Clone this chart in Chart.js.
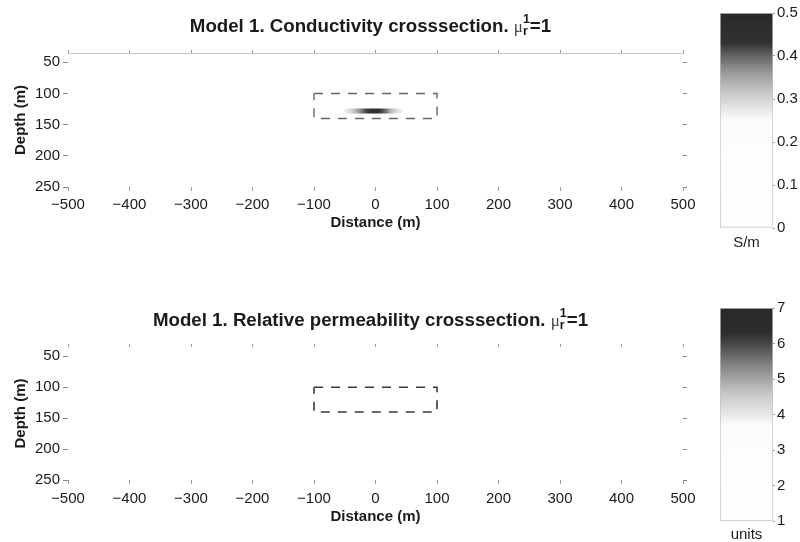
<!DOCTYPE html>
<html>
<head>
<meta charset="utf-8">
<script src="https://cdn.jsdelivr.net/npm/chart.js@4"></script>
<style>
  body { margin: 0; background: #fff; overflow: hidden; width: 800px; height: 542px; }
  canvas { position: absolute; }
</style>
</head>
<body>
<canvas id="cond" width="720" height="250" style="left:0;top:0"></canvas>
<canvas id="condBar" width="100" height="260" style="left:700px;top:0"></canvas>
<canvas id="perm" width="720" height="248" style="left:0;top:294px"></canvas>
<canvas id="permBar" width="100" height="252" style="left:700px;top:290px"></canvas>
<script>
// axis ticks
const distanceTicks = [-500, -400, -300, -200, -100, 0, 100, 200, 300, 400, 500];
const depthTicks = [50, 100, 150, 200, 250];
const sigmaTicks = [0, 0.1, 0.2, 0.3, 0.4, 0.5];
const muTicks = [1, 2, 3, 4, 5, 6, 7];

// target box (dashed outline), distance / depth corners
const boxDistance = [-100, 100, 100, -100, -100];
const boxDepth = [100, 100, 140, 140, 100];

// recovered conductivity anomaly along one depth
const anomalyDistance = [-47, -35, -25, -15, -5, 5, 15, 25, 40];
const anomalySigma = [0.27, 0.32, 0.37, 0.42, 0.46, 0.45, 0.40, 0.33, 0.27];
const anomalyDepth = 128;

// grey colour maps (value -> grey level)
const sigmaStops = [0, 0.25, 0.28, 0.32, 0.36, 0.40, 0.43, 0.5];
const sigmaGrays = [255, 252, 228, 195, 155, 100, 50, 40];
const muStops = [1, 3.7, 4.0, 4.5, 5.0, 5.5, 6.0, 6.3, 7];
const muGrays = [255, 252, 232, 205, 165, 120, 70, 45, 40];

const FONT = '"Liberation Sans", Arial, Helvetica, sans-serif';
const INK = '#1a1a1a';

function grayFor(v, stops, grays) {
    if (v <= stops[0]) return `rgb(${grays[0]},${grays[0]},${grays[0]})`;
    for (let i = 1; i < stops.length; i++) {
        if (v <= stops[i]) {
            const t = (v - stops[i - 1]) / (stops[i] - stops[i - 1]);
            const g = Math.round(grays[i - 1] + t * (grays[i] - grays[i - 1]));
            return `rgb(${g},${g},${g})`;
        }
    }
    const g = grays[grays.length - 1];
    return `rgb(${g},${g},${g})`;
}

const minus = v => String(v).replace('-', '\u2212');

// title with the stacked mu_r^1 symbol
const muTitle = {
    id: 'muTitle',
    afterDraw(chart, args, opts) {
        if (!opts.text) return;
        const { ctx, chartArea } = chart;
        const y = chartArea.top - 26;
        const main = opts.text + ' ';
        ctx.save();
        ctx.fillStyle = INK;
        ctx.textBaseline = 'middle';
        ctx.textAlign = 'left';
        ctx.font = 'bold 18.7px ' + FONT;
        const wMain = ctx.measureText(main).width;
        const wEq = ctx.measureText('=1').width;
        ctx.font = '17px "Liberation Serif", serif';
        const wMu = ctx.measureText('\u03bc').width;
        ctx.font = 'bold 12.5px ' + FONT;
        const wScr = Math.max(ctx.measureText('1').width, ctx.measureText('r').width);
        const total = wMain + wMu + wScr + wEq;
        let x = (chartArea.left + chartArea.right) / 2 - 5 - total / 2;
        ctx.font = 'bold 18.7px ' + FONT;
        ctx.fillText(main, x, y);
        x += wMain;
        ctx.font = '17px "Liberation Serif", serif';
        ctx.fillStyle = '#444';
        ctx.fillText('\u03bc', x, y + 1);
        x += wMu;
        ctx.fillStyle = INK;
        ctx.font = 'bold 12.5px ' + FONT;
        ctx.fillText('1', x, y - 7);
        ctx.fillText('r', x, y + 5);
        x += wScr;
        ctx.font = 'bold 18.7px ' + FONT;
        ctx.fillText('=1', x, y);
        ctx.restore();
    }
};

function sectionChart(id, title, datasets, xAxisH, xTitlePad, tickPad, topDotted) {
    return new Chart(document.getElementById(id), {
        type: 'line',
        data: { datasets: datasets },
        plugins: [muTitle],
        options: {
            responsive: false,
            animation: false,
            layout: { padding: { top: 49, right: 33, left: 0, bottom: 0 } },
            plugins: {
                legend: { display: false },
                tooltip: { enabled: false },
                muTitle: { text: title }
            },
            scales: {
                x: {
                    type: 'linear', min: -500, max: 500,
                    afterBuildTicks: s => { s.ticks = distanceTicks.map(v => ({ value: v })); },
                    afterFit: s => { s.height = xAxisH; },
                    grid: { drawOnChartArea: false, tickLength: 4, color: '#999' },
                    border: { display: false },
                    ticks: { padding: tickPad, color: INK, font: { family: FONT, size: 15 }, callback: minus, maxRotation: 0 },
                    title: { display: true, text: 'Distance (m)', color: INK, font: { family: FONT, size: 15, weight: 'bold' }, padding: { top: 0, bottom: xTitlePad } }
                },
                x2: {
                    type: 'linear', position: 'top', min: -500, max: 500,
                    afterBuildTicks: s => { s.ticks = distanceTicks.map(v => ({ value: v })); },
                    afterFit: s => { s.height = 4; },
                    grid: { drawOnChartArea: false, tickLength: 3, color: '#999' },
                    border: { display: topDotted, color: '#c8c8c8', dash: [1, 3], width: 1 },
                    ticks: { display: false }
                },
                y: {
                    type: 'linear', reverse: true, min: 35, max: 250,
                    afterBuildTicks: s => { s.ticks = depthTicks.map(v => ({ value: v })); },
                    afterFit: s => { s.width = 68; },
                    grid: { drawOnChartArea: false, tickLength: 5, color: '#888' },
                    border: { display: false },
                    ticks: { padding: 3, color: INK, font: { family: FONT, size: 15 } },
                    title: { display: true, text: 'Depth (m)', color: INK, font: { family: FONT, size: 15, weight: 'bold' }, padding: { top: 12, bottom: 0 } }
                },
                y2: {
                    type: 'linear', position: 'right', reverse: true, min: 35, max: 250,
                    afterBuildTicks: s => { s.ticks = depthTicks.map(v => ({ value: v })); },
                    afterFit: s => { s.width = 4; },
                    grid: { drawOnChartArea: false, tickLength: 4, color: '#888' },
                    border: { display: false },
                    ticks: { display: false }
                }
            }
        }
    });
}

function boxDataset(color, width) {
    return {
        data: boxDistance.map((d, i) => ({ x: d, y: boxDepth[i] })),
        borderColor: color,
        borderWidth: width,
        borderDash: [9, 8],
        pointRadius: 0,
        fill: false,
        tension: 0
    };
}

const anomalyDataset = {
    data: anomalyDistance.map(d => ({ x: d, y: anomalyDepth })),
    borderWidth: 5,
    borderCapStyle: 'round',
    pointRadius: 0,
    fill: false,
    borderColor: ctx => {
        const chart = ctx.chart;
        if (!chart.chartArea) return '#777';
        const xs = chart.scales.x;
        const d0 = anomalyDistance[0], d1 = anomalyDistance[anomalyDistance.length - 1];
        const g = chart.ctx.createLinearGradient(xs.getPixelForValue(d0), 0, xs.getPixelForValue(d1), 0);
        anomalyDistance.forEach((d, i) => {
            g.addColorStop((d - d0) / (d1 - d0), grayFor(anomalySigma[i], sigmaStops, sigmaGrays));
        });
        return g;
    }
};

function colorBar(id, min, max, ticks, stops, grays, unit, padTop, xAxisH, unitPad) {
    return new Chart(document.getElementById(id), {
        type: 'bar',
        data: {
            labels: [''],
            datasets: [{
                data: [[min, max]],
                barPercentage: 1,
                categoryPercentage: 1,
                borderWidth: 1,
                borderSkipped: false,
                borderColor: '#c4c4c4',
                backgroundColor: ctx => {
                    const chart = ctx.chart;
                    if (!chart.chartArea) return '#ccc';
                    const ys = chart.scales.y;
                    const g = chart.ctx.createLinearGradient(0, ys.getPixelForValue(min), 0, ys.getPixelForValue(max));
                    stops.forEach((s, i) => g.addColorStop((s - min) / (max - min), grayFor(s, stops, grays)));
                    return g;
                }
            }]
        },
        options: {
            responsive: false,
            animation: false,
            layout: { padding: { top: padTop, left: 20, right: 0, bottom: 0 } },
            plugins: { legend: { display: false }, tooltip: { enabled: false } },
            scales: {
                x: {
                    afterFit: s => { s.height = xAxisH; },
                    grid: { display: false },
                    border: { display: false },
                    ticks: { display: false },
                    title: { display: true, text: unit, color: INK, font: { family: FONT, size: 15, lineHeight: 1 }, padding: { top: 0, bottom: unitPad } }
                },
                y: {
                    position: 'right', min: min, max: max,
                    afterBuildTicks: s => { s.ticks = ticks.map(v => ({ value: v })); },
                    afterFit: s => { s.width = 27; },
                    grid: { drawOnChartArea: false, tickLength: 2, color: '#999' },
                    border: { display: false },
                    ticks: { padding: 2, color: INK, font: { family: FONT, size: 15 } }
                }
            }
        }
    });
}

sectionChart('cond', 'Model 1. Conductivity crosssection.',
    [anomalyDataset, boxDataset('#666', 1.4)], 63, 18, 5, true);
sectionChart('perm', 'Model 1. Relative permeability crosssection.',
    [boxDataset('#3a3a3a', 1.6)], 62, 16, 6, false);

colorBar('condBar', 0, 0.5, sigmaTicks, sigmaStops, sigmaGrays, 'S/m', 13, 32, 10);
colorBar('permBar', 1, 7, muTicks, muStops, muGrays, 'units', 18, 21, 0);
</script>
</body>
</html>
